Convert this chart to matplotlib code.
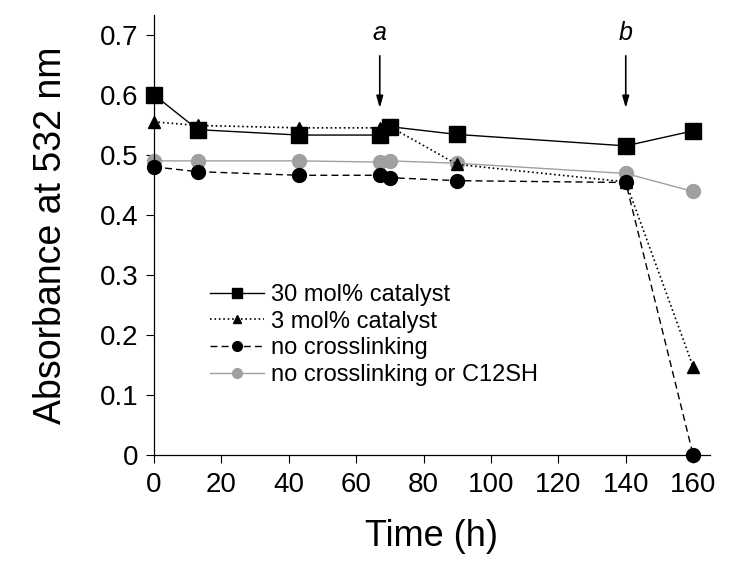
import matplotlib
matplotlib.use("Agg")
import matplotlib.pyplot as plt

plt.rcParams['font.family'] = ['Liberation Sans', 'DejaVu Sans']

time_h = [0, 13, 43, 67, 70, 90, 140, 160]
cat30 = [0.600, 0.542, 0.533, 0.533, 0.547, 0.534, 0.515, 0.540]
cat3 = [0.555, 0.549, 0.545, 0.545, 0.547, 0.484, 0.455, 0.147]
no_xlink = [0.480, 0.472, 0.466, 0.466, 0.462, 0.457, 0.454, 0.000]
no_xlink_c12 = [0.490, 0.490, 0.490, 0.488, 0.490, 0.486, 0.469, 0.439]

labels = ["30 mol% catalyst", "3 mol% catalyst", "no crosslinking", "no crosslinking or C12SH"]
arrow_x = [67, 140]
arrow_labels = ["a", "b"]
xticks = [0, 20, 40, 60, 80, 100, 120, 140, 160]
yticks = [0, 0.1, 0.2, 0.3, 0.4, 0.5, 0.6, 0.7]
ytick_labels = ["0", "0.1", "0.2", "0.3", "0.4", "0.5", "0.6", "0.7"]

fig = plt.figure(figsize=(7.5, 5.78), dpi=100)
ax = fig.add_axes([154/750, (578-455)/578, (710-154)/750, (455-15)/578])

gray = "#a0a0a0"
ax.plot(time_h, no_xlink_c12, '-', color=gray, lw=1.0, marker='o', ms=10, mfc=gray, mec=gray,
        label=labels[3], clip_on=False, zorder=2)
ax.plot(time_h, no_xlink, '--', color='black', lw=1.0, marker='o', ms=10, dashes=(5, 3),
        label=labels[2], clip_on=False, zorder=3)
ax.plot(time_h, cat3, ':', color='black', lw=1.2, marker='^', ms=9,
        label=labels[1], clip_on=False, zorder=3)
ax.plot(time_h, cat30, '-', color='black', lw=1.0, marker='s', ms=11,
        label=labels[0], clip_on=False, zorder=4)

for xv, lab in zip(arrow_x, arrow_labels):
    ax.annotate("", xy=(xv, 0.578), xytext=(xv, 0.665),
                arrowprops=dict(arrowstyle='-|>,head_length=0.7,head_width=0.2', color='black', lw=1.2,
                                shrinkA=0, shrinkB=0))
    ax.text(xv, 0.703, lab, fontsize=18, style='italic', ha='center', va='center')

ax.set_xlim(0, 165)
ax.set_ylim(0, 0.733)
ax.set_xticks(xticks)
ax.set_yticks(yticks)
ax.set_yticklabels(ytick_labels)
ax.tick_params(labelsize=20, length=6, width=0.8, direction='out')
ax.tick_params(axis='x', pad=6)
ax.tick_params(axis='y', pad=5)
for s in ['top', 'right']:
    ax.spines[s].set_visible(False)
for s in ['left', 'bottom']:
    ax.spines[s].set_linewidth(0.9)

ax.set_xlabel("Time (h)", fontsize=26)
ax.set_ylabel("Absorbance at 532 nm", fontsize=27)
ax.xaxis.set_label_coords(0.499, -0.145)
ax.yaxis.set_label_coords(-0.153, 0.5)

h, l = ax.get_legend_handles_labels()
order = [3, 2, 1, 0]
leg = ax.legend([h[i] for i in order], [l[i] for i in order], loc='upper left',
                bbox_to_anchor=(0.10, 0.389), frameon=False, fontsize=17,
                handlelength=2.3, handletextpad=0.3, labelspacing=0.2,
                borderpad=0, borderaxespad=0, markerscale=0.7)

fig.savefig("out.png", dpi=100)
